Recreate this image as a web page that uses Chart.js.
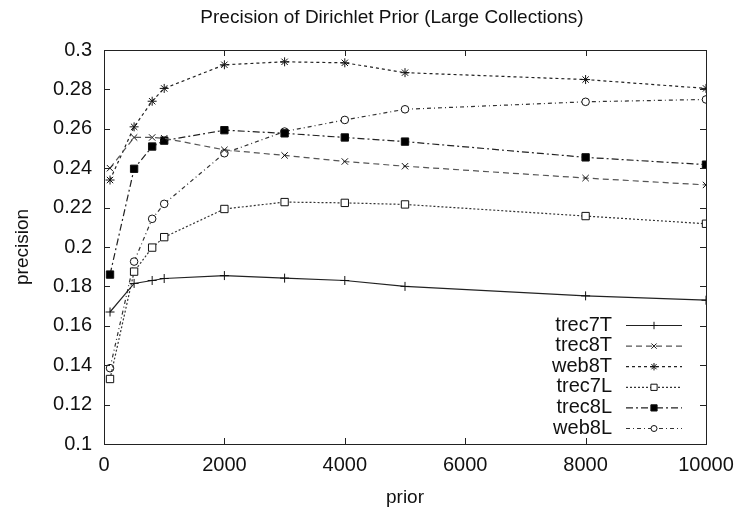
<html>
<head>
<meta charset="utf-8" />
<title>Precision of Dirichlet Prior (Large Collections)</title>
<script src="https://cdn.jsdelivr.net/npm/chart.js@4/dist/chart.umd.min.js"></script>
<style>
  body { margin: 0; background: #fff; }
  #wrap { width: 737px; height: 510px; }
</style>
<script>
// prior values (x axis)
const priors = [100, 500, 800, 1000, 2000, 3000, 4000, 5000, 8000, 10000];

// precision per collection
const trec7T = [0.167, 0.1815, 0.183, 0.184, 0.1855, 0.1842, 0.183, 0.180, 0.1752, 0.173];
const trec8T = [0.240, 0.2556, 0.2556, 0.2552, 0.2493, 0.2465, 0.2434, 0.241, 0.235, 0.2315];
const web8T  = [0.234, 0.261, 0.274, 0.2805, 0.2925, 0.294, 0.2935, 0.2885, 0.285, 0.2805];
const trec7L = [0.133, 0.1875, 0.1997, 0.205, 0.2193, 0.2228, 0.2224, 0.2216, 0.2157, 0.2118];
const trec8L = [0.186, 0.2397, 0.251, 0.254, 0.2593, 0.2577, 0.2556, 0.2535, 0.2455, 0.2418];
const web8L  = [0.1385, 0.1926, 0.2143, 0.2219, 0.2476, 0.2586, 0.2645, 0.2699, 0.2737, 0.2749];

const seriesNames = ['trec7T', 'trec8T', 'web8T', 'trec7L', 'trec8L', 'web8L'];
const seriesValues = [trec7T, trec8T, web8T, trec7L, trec8L, web8L];

const xTicks = [0, 2000, 4000, 6000, 8000, 10000];
const yTicks = [0.1, 0.12, 0.14, 0.16, 0.18, 0.2, 0.22, 0.24, 0.26, 0.28, 0.3];

const titulo = 'Precision of Dirichlet Prior (Large Collections)';
</script>
</head>
<body>
<div id="wrap"><canvas id="grafico" width="737" height="510"></canvas></div>
<script>
const FONT = "'Liberation Sans', Arial, sans-serif";

// gnuplot-like look per series
const estilos = [
  { dash: [],              point: 'cross',    fill: false, color: '#222', r: 4.5 },
  { dash: [6, 4],          point: 'crossRot', fill: false, color: '#555', r: 4.5 },
  { dash: [3, 3],          point: 'star',     fill: false, color: '#222', r: 4.5 },
  { dash: [2, 2],          point: 'rect',     fill: false, color: '#333', r: 5.2 },
  { dash: [7, 3, 2, 3],    point: 'rect',     fill: true,  color: '#222', r: 5.2 },
  { dash: [4, 3, 1, 3],    point: 'circle',   fill: false, color: '#333', r: 3.8 }
];

function gerarDataSets() {
  return seriesValues.map((vals, i) => {
    const e = estilos[i];
    return {
      label: seriesNames[i],
      data: vals.map((v, j) => ({ x: priors[j], y: v })),
      borderColor: e.color,
      borderWidth: 1.2,
      borderDash: e.dash,
      pointStyle: e.point,
      pointRadius: e.r,
      pointBorderWidth: 1,
      pointBorderColor: '#111',
      pointBackgroundColor: e.fill ? '#000' : '#fff',
      tension: 0,
      fill: false
    };
  });
}

// title, frame, inward ticks on all four sides, and the legend in the lower right
const molduraPlugin = {
  id: 'moldura',
  afterDatasetsDraw(chart) {
    const { ctx, chartArea: a, scales: { x, y } } = chart;
    ctx.save();

    ctx.fillStyle = '#111';
    ctx.font = '19px ' + FONT;
    ctx.textAlign = 'center';
    ctx.textBaseline = 'middle';
    ctx.fillText(titulo, 392, 18);

    ctx.strokeStyle = '#222';
    ctx.lineWidth = 1;
    ctx.setLineDash([]);
    ctx.strokeRect(a.left + 0.5, a.top + 0.5, a.right - a.left, a.bottom - a.top);
    const t = 6;
    ctx.beginPath();
    yTicks.forEach(v => {
      const py = Math.round(y.getPixelForValue(v)) + 0.5;
      ctx.moveTo(a.left, py); ctx.lineTo(a.left + t, py);
      ctx.moveTo(a.right, py); ctx.lineTo(a.right - t, py);
    });
    xTicks.forEach(v => {
      const px = Math.round(x.getPixelForValue(v)) + 0.5;
      ctx.moveTo(px, a.bottom); ctx.lineTo(px, a.bottom - t);
      ctx.moveTo(px, a.top); ctx.lineTo(px, a.top + t);
    });
    ctx.stroke();

    // legend
    const textRight = a.right - 94;
    const lineStart = a.right - 80;
    const lineEnd = a.right - 24;
    const firstRow = a.bottom - 119;
    const rowGap = 20.6;
    ctx.font = '20px ' + FONT;
    ctx.textAlign = 'right';
    ctx.textBaseline = 'middle';
    chart.data.datasets.forEach((ds, i) => {
      const ry = firstRow + i * rowGap;
      ctx.fillStyle = '#111';
      ctx.fillText(ds.label, textRight, ry);
      ctx.strokeStyle = ds.borderColor;
      ctx.lineWidth = ds.borderWidth;
      ctx.setLineDash(ds.borderDash);
      ctx.beginPath();
      ctx.moveTo(lineStart, ry + 0.5);
      ctx.lineTo(lineEnd, ry + 0.5);
      ctx.stroke();
      ctx.setLineDash([]);
      ctx.strokeStyle = ds.pointBorderColor;
      ctx.fillStyle = ds.pointBackgroundColor;
      ctx.lineWidth = 1;
      Chart.helpers.drawPoint(ctx, {
        pointStyle: ds.pointStyle,
        radius: ds.pointRadius - 0.8,
        rotation: 0,
        borderWidth: 1
      }, (lineStart + lineEnd) / 2, ry + 0.5);
    });
    ctx.restore();
  }
};

const config = {
  type: 'line',
  data: { datasets: gerarDataSets() },
  plugins: [molduraPlugin],
  options: {
    responsive: false,
    animation: false,
    layout: { padding: { left: 0, right: 31, top: 50, bottom: 0 } },
    plugins: {
      legend: { display: false },
      tooltip: { enabled: false },
      title: { display: false }
    },
    scales: {
      x: {
        type: 'linear',
        min: 0,
        max: 10000,
        afterBuildTicks: s => { s.ticks = xTicks.map(v => ({ value: v })); },
        afterFit: s => { s.height = 66; s.paddingLeft = 0; s.paddingRight = 0; },
        grid: { display: false },
        border: { display: false },
        ticks: {
          color: '#111',
          padding: 1,
          font: { family: FONT, size: 20 },
          maxRotation: 0,
          callback: v => String(v)
        },
        title: {
          display: true,
          text: 'prior',
          color: '#111',
          font: { family: FONT, size: 19 },
          padding: { top: 0, bottom: 1 }
        }
      },
      y: {
        min: 0.1,
        max: 0.3,
        afterBuildTicks: s => { s.ticks = yTicks.map(v => ({ value: v })); },
        afterFit: s => { s.width = 104; s.paddingTop = 0; s.paddingBottom = 0; },
        grid: { display: false },
        border: { display: false },
        ticks: {
          color: '#111',
          padding: 4,
          font: { family: FONT, size: 20 },
          callback: v => String(+v.toFixed(2))
        },
        title: {
          display: true,
          text: 'precision',
          color: '#111',
          font: { family: FONT, size: 19 },
          padding: { top: 11, bottom: 0 }
        }
      }
    }
  }
};

const grafico = new Chart(document.getElementById('grafico'), config);
</script>
</body>
</html>
